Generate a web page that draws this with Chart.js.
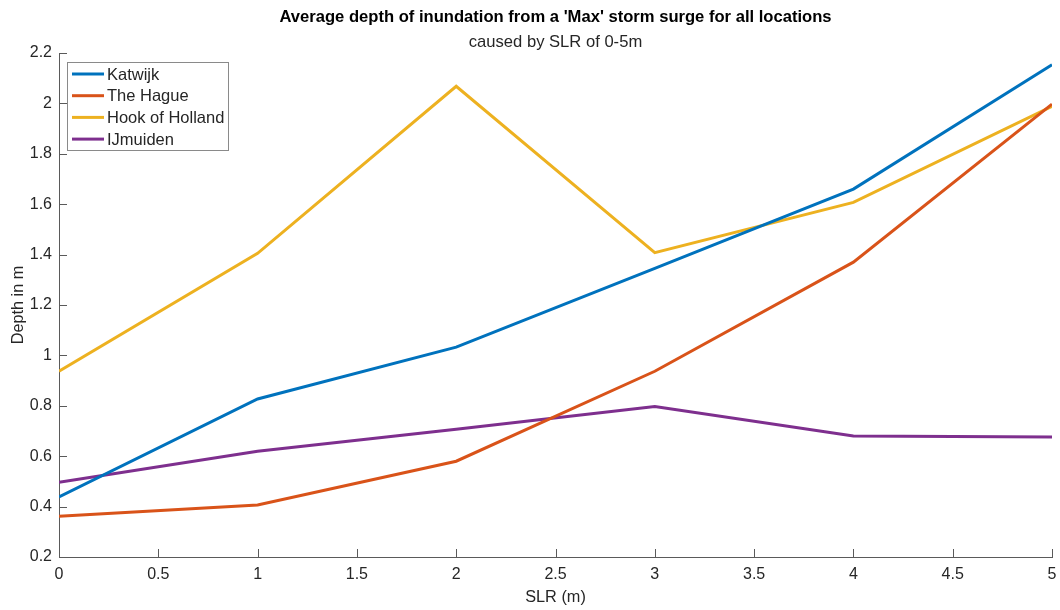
<!DOCTYPE html>
<html>
<head>
<meta charset="utf-8">
<script src="https://cdn.jsdelivr.net/npm/chart.js@4/dist/chart.umd.min.js"></script>
<style>
  html, body { margin: 0; padding: 0; background: #ffffff; }
  #wrap { width: 1060px; height: 610px; position: relative; }
</style>
</head>
<body>
<div id="wrap"><canvas id="c" width="1060" height="610"></canvas></div>
<script>
// Sea level rise steps (m)
const slr = [0, 1, 2, 3, 4, 5];

// Average inundation depth (m) per location
const katwijk   = [0.438, 0.827, 1.033, 1.345, 1.660, 2.153];
const theHague  = [0.362, 0.406, 0.580, 0.937, 1.370, 1.997];
const hook      = [0.937, 1.405, 2.068, 1.408, 1.607, 1.988];
const ijmuiden  = [0.497, 0.620, 0.707, 0.797, 0.680, 0.676];

const seriesNames = ['Katwijk', 'The Hague', 'Hook of Holland', 'IJmuiden'];
const seriesColors = ['#0072BD', '#D95319', '#EDB120', '#7E2F8E'];

const titleText = "Average depth of inundation from a 'Max' storm surge for all locations";
const subtitleText = 'caused by SLR of 0-5m';
const xTitle = 'SLR (m)';
const yTitle = 'Depth in m';

const FONT = "'Liberation Sans', Arial, Helvetica, sans-serif";
const TEXT = '#262626';
const AXIS = '#5a5a5a';

function toPoints(vals) {
  return slr.map((x, i) => ({ x: x, y: vals[i] }));
}

const allSeries = [katwijk, theHague, hook, ijmuiden];

// Titles, inward tick marks and boxed legend in the upper left
const decorations = {
  id: 'decorations',
  afterDraw(chart) {
    const ctx = chart.ctx;
    const a = chart.chartArea;
    const xs = chart.scales.x, ys = chart.scales.y;
    const cx = (a.left + a.right) / 2;
    ctx.save();

    // tick marks pointing into the plot
    ctx.strokeStyle = AXIS;
    ctx.lineWidth = 1;
    ctx.beginPath();
    xs.ticks.forEach(t => {
      const px = Math.round(xs.getPixelForValue(t.value)) + 0.5;
      ctx.moveTo(px, a.bottom);
      ctx.lineTo(px, a.bottom - 8);
    });
    ys.ticks.forEach(t => {
      const py = Math.round(ys.getPixelForValue(t.value)) + 0.5;
      ctx.moveTo(a.left, py);
      ctx.lineTo(a.left + 8, py);
    });
    ctx.stroke();

    // titles
    ctx.fillStyle = '#000000';
    ctx.textAlign = 'center';
    ctx.textBaseline = 'middle';
    ctx.font = 'bold 16.6px ' + FONT;
    ctx.fillText(titleText, cx, 17);
    ctx.fillStyle = TEXT;
    ctx.font = '16.6px ' + FONT;
    ctx.fillText(subtitleText, cx, 42);

    // axis titles
    ctx.font = '16.3px ' + FONT;
    ctx.fillText(xTitle, cx, 598);
    ctx.save();
    ctx.translate(19, (a.top + a.bottom) / 2);
    ctx.rotate(-Math.PI / 2);
    ctx.fillText(yTitle, 0, 0);
    ctx.restore();

    // legend
    const lx = 67.5, ly = 62.5, lw = 161, lh = 88;
    ctx.fillStyle = '#ffffff';
    ctx.fillRect(lx, ly, lw, lh);
    ctx.strokeStyle = '#8a8a8a';
    ctx.lineWidth = 1;
    ctx.strokeRect(lx, ly, lw, lh);
    ctx.font = '16.5px ' + FONT;
    ctx.textAlign = 'left';
    chart.data.datasets.forEach((ds, i) => {
      const ry = 74 + i * 21.7;
      ctx.strokeStyle = ds.borderColor;
      ctx.lineWidth = 3;
      ctx.beginPath();
      ctx.moveTo(72, ry);
      ctx.lineTo(104, ry);
      ctx.stroke();
      ctx.fillStyle = TEXT;
      ctx.fillText(ds.label, 107, ry + 1);
    });
    ctx.restore();
  }
};

new Chart(document.getElementById('c'), {
  type: 'line',
  data: {
    datasets: allSeries.map((vals, i) => ({
      label: seriesNames[i],
      data: toPoints(vals),
      borderColor: seriesColors[i],
      backgroundColor: seriesColors[i],
      borderWidth: 3,
      pointRadius: 0,
      tension: 0,
      fill: false
    }))
  },
  options: {
    responsive: false,
    animation: false,
    devicePixelRatio: 1,
    layout: { padding: { top: 53, right: 8, left: 0, bottom: 0 } },
    plugins: {
      legend: { display: false },
      tooltip: { enabled: false },
      title: { display: false }
    },
    scales: {
      x: {
        type: 'linear',
        min: 0,
        max: 5,
        afterBuildTicks(s) {
          s.ticks = [];
          for (let v = 0; v <= 5.0001; v += 0.5) s.ticks.push({ value: Math.round(v * 10) / 10 });
        },
        afterFit(s) { s.height = 53; s.paddingLeft = 0; s.paddingRight = 0; },
        grid: { display: false, drawTicks: false },
        border: { display: true, color: AXIS, width: 1 },
        ticks: {
          color: TEXT,
          font: { family: FONT, size: 16 },
          padding: 8,
          maxRotation: 0,
          autoSkip: false,
          callback: v => String(v)
        }
      },
      y: {
        type: 'linear',
        min: 0.2,
        max: 2.2,
        afterBuildTicks(s) {
          s.ticks = [];
          for (let v = 0.2; v <= 2.2001; v += 0.2) s.ticks.push({ value: Math.round(v * 10) / 10 });
        },
        afterFit(s) { s.width = 59; s.paddingTop = 0; s.paddingBottom = 0; },
        grid: { display: false, drawTicks: false },
        border: { display: true, color: AXIS, width: 1 },
        ticks: {
          color: TEXT,
          font: { family: FONT, size: 16 },
          padding: 7,
          autoSkip: false,
          callback: v => String(v)
        }
      }
    }
  },
  plugins: [decorations]
});
</script>
</body>
</html>
